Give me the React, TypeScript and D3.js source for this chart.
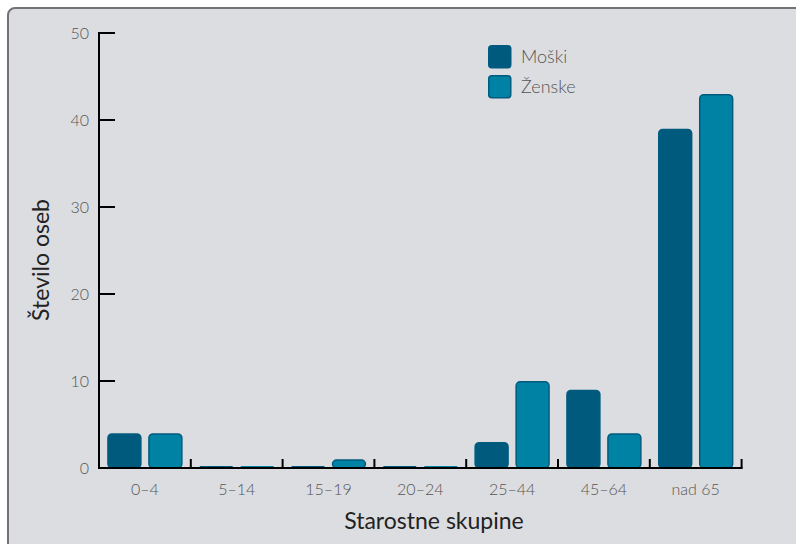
import React from "react";
import * as d3 from "d3";

const categories = ["0–4", "5–14", "15–19", "20–24", "25–44", "45–64", "nad 65"];
const moski = [4, 0, 0, 0, 3, 9, 39];
const zenske = [4, 0, 1, 0, 10, 4, 43];
const seriesNames = ["Moški", "Ženske"];
const yTicks = [0, 10, 20, 30, 40, 50];

const W = 796;
const H = 544;
const FONT = "Lato, 'Open Sans', sans-serif";
const colors = ["#005a7d", "#0082a4"];
const strokeCol = "#005b7f";

export default function App() {
  const x0 = d3.scaleBand<string>().domain(categories).range([99, 741.6]).paddingInner(0).paddingOuter(0);
  const x1 = d3.scaleBand<string>().domain(seriesNames).range([0, x0.bandwidth()]).paddingInner(0.16).paddingOuter(0.2);
  const y = d3.scaleLinear().domain([0, 50]).range([468, 33]);
  const series = [moski, zenske];

  return (
    <svg width={W} height={H} style={{ position: "absolute", left: 0, top: 0, background: "#ffffff" }}>
      <rect x={8} y={8} width={820} height={580} rx={7} fill="#dcdde0" stroke="#737373" strokeWidth={2} />
      {/* bars */}
      {categories.map((c, i) => (
        <g key={c}>
          {series.map((s, j) => {
            const v = s[i];
            const bx = (x0(c) as number) + (x1(seriesNames[j]) as number);
            const bw = x1.bandwidth();
            const top = y(v);
            const h = Math.max(y(0) - top, 1);
            return (
              <rect
                key={j}
                x={bx + 0.75}
                y={v === 0 ? y(0) - 2 : top + 0.75}
                width={bw - 1.5}
                height={v === 0 ? 2 : h - 0.75}
                rx={v === 0 ? 0 : Math.min(4, (h - 0.75) / 2)}
                fill={colors[j]}
                stroke={v === 0 ? "none" : strokeCol}
                strokeWidth={1.5}
              />
            );
          })}
        </g>
      ))}
      {/* y axis */}
      <line x1={99} x2={99} y1={y(50) - 1} y2={y(0) + 1} stroke="#000" strokeWidth={2} />
      {yTicks.map((t) => (
        <g key={t}>
          <line x1={99} x2={115} y1={y(t)} y2={y(t)} stroke="#000" strokeWidth={2} />
          <text x={89} y={y(t) + 5.5} textAnchor="end" fontFamily={FONT} fontWeight={300} fontSize={16} fill="#555">
            {t}
          </text>
        </g>
      ))}
      {/* x axis */}
      <line x1={98} x2={742.6} y1={y(0)} y2={y(0)} stroke="#000" strokeWidth={2} />
      {categories.map((c, i) => (
        <g key={c}>
          {i > 0 && <line x1={x0(c)} x2={x0(c)} y1={y(0)} y2={y(0) - 9} stroke="#000" strokeWidth={2} />}
          <text
            x={(x0(c) as number) + x0.bandwidth() / 2}
            y={495}
            textAnchor="middle"
            fontFamily={FONT}
            fontWeight={300}
            fontSize={16}
            fill="#555"
          >
            {c}
          </text>
        </g>
      ))}
      <line x1={741.6} x2={741.6} y1={y(0)} y2={y(0) - 9} stroke="#000" strokeWidth={2} />
      {/* axis titles */}
      <text x={434} y={529} textAnchor="middle" fontFamily={FONT} fontSize={23} fill="#222">
        Starostne skupine
      </text>
      <text
        transform={`translate(49, 260) rotate(-90)`}
        textAnchor="middle"
        fontFamily={FONT}
        fontSize={23}
        fill="#222"
      >
        Število oseb
      </text>
      {/* legend */}
      {seriesNames.map((n, j) => (
        <g key={n} transform={`translate(488, ${45 + j * 30})`}>
          <rect x={0.75} y={0.75} width={22} height={22} rx={3} fill={colors[j]} stroke={strokeCol} strokeWidth={1.5} />
          <text x={33} y={18} fontFamily={FONT} fontWeight={300} fontSize={18} fill="#555">
            {n}
          </text>
        </g>
      ))}
    </svg>
  );
}
